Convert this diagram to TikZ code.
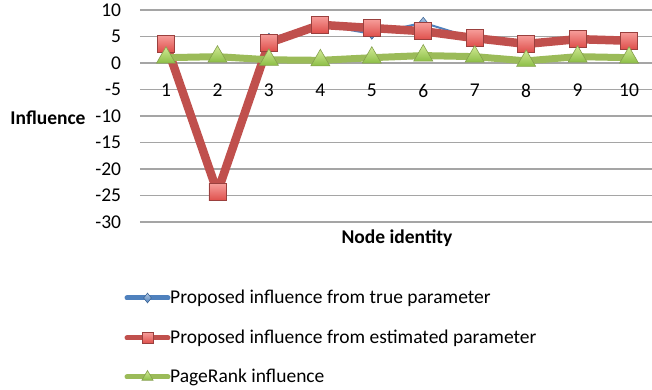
\documentclass[tikz,border=0pt]{standalone}
\usepackage{fontspec}
\setmainfont{Carlito}
\usetikzlibrary{shapes.geometric,calc}

\definecolor{serblue}{RGB}{79,129,189}
\definecolor{serred}{RGB}{192,80,77}
\definecolor{sergreen}{RGB}{155,187,89}
\definecolor{redtop}{RGB}{246,156,153}
\definecolor{redbot}{RGB}{222,78,74}
\definecolor{greentop}{RGB}{210,234,150}
\definecolor{greenbot}{RGB}{140,190,70}
\definecolor{gridgray}{RGB}{165,165,165}

\tikzset{
  lab/.style={font=\fontsize{19.5}{23}\selectfont, inner sep=0pt},
  titlelab/.style={font=\fontsize{19.5}{23}\selectfont\bfseries, inner sep=0pt},
  gridline/.style={draw=gridgray, line width=1.4pt},
  trueline/.style={draw=serblue, line width=2pt, line join=round},
  estline/.style={draw=serred, line width=8.5pt, line join=round},
  prline/.style={draw=sergreen, line width=7pt, line join=round},
  bluemark/.style={diamond, draw=serblue!80!black, top color=serblue!45!white,
    bottom color=serblue, minimum width=9pt, minimum height=11pt, inner sep=0pt,
    line width=0.6pt},
  redmark/.style={rectangle, draw=serred!80!black, top color=redtop,
    bottom color=redbot, minimum size=17pt, inner sep=0pt, line width=0.8pt},
  greenmark/.style={regular polygon, regular polygon sides=3, draw=sergreen!85!black,
    top color=greentop, bottom color=greenbot, minimum size=22pt, inner sep=0pt,
    line width=0.6pt},
  keyline/.style={line width=5pt, line cap=round}
}

\begin{document}
\begin{tikzpicture}[x=1pt,y=1pt]
  \useasboundingbox (0,0) rectangle (652,390);

  \begin{scope}[shift={(114.55pt,327pt)}, x=51.45pt, y=5.3pt]
    % grid and value axis
    \foreach \v [count=\k] in {10,5,...,-30}{
      \draw[gridline] (0.49,\v) -- (10.44,\v);
      \node[lab,anchor=east] (ytick\k) at (0.13,\v) {\v};
    }
    \foreach \i in {1,...,10}
      \node[lab] (xtick\i) at (\i,-5.2) {\i};

    % series values
    \foreach \i/\v in {1/3.6,2/-24,3/4.6,4/7.2,5/5.5,6/7.6,7/4.6,8/3.3,9/4.4,10/4.2}
      \coordinate (tru\i) at (\i,\v);
    \foreach \i/\v in {1/3.6,2/-24.4,3/3.8,4/7.2,5/6.6,6/6.0,7/4.7,8/3.6,9/4.5,10/4.2}
      \coordinate (est\i) at (\i,\v);
    \foreach \i/\v in {1/1.0,2/1.2,3/0.6,4/0.5,5/1.0,6/1.4,7/1.2,8/0.4,9/1.2,10/1.0}
      \coordinate (pr\i) at (\i,\v);

    % true parameter
    \draw[trueline] (tru1) \foreach \i in {2,...,10}{ -- (tru\i)};
    \foreach \i in {1,...,10}
      \node[bluemark] (trum\i) at (tru\i) {};

    % estimated parameter
    \draw[estline] (est1) \foreach \i in {2,...,10}{ -- (est\i)};
    \foreach \i in {1,...,10}
      \node[redmark] (estm\i) at (est\i) {};

    % pagerank
    \draw[prline] (pr1) \foreach \i in {2,...,10}{ -- (pr\i)};
    \foreach \i in {1,...,10}
      \node[greenmark] (prm\i) at (pr\i) {};
  \end{scope}

  \node[titlelab] (ytitle) at (48,272) {Influence};
  \node[titlelab] (xtitle) at (397,152) {Node identity};

  % legend
  \coordinate (ka1) at (127,92);  \coordinate (kb1) at (168,92);
  \coordinate (ka2) at (127,52);  \coordinate (kb2) at (168,52);
  \coordinate (ka3) at (127,13);  \coordinate (kb3) at (168,13);
  \draw[keyline,serblue] (ka1) -- (kb1);
  \node[bluemark,minimum width=8pt,minimum height=10pt] (key1) at ($(ka1)!0.5!(kb1)$) {};
  \draw[keyline,serred] (ka2) -- (kb2);
  \node[redmark,minimum size=11pt] (key2) at ($(ka2)!0.5!(kb2)$) {};
  \draw[keyline,sergreen] (ka3) -- (kb3);
  \node[greenmark,minimum size=13pt] (key3) at ($(ka3)!0.5!(kb3)$) {};
  \node[lab,anchor=west] (ltext1) at (170,92) {Proposed influence from true parameter};
  \node[lab,anchor=west] (ltext2) at (170,52) {Proposed influence from estimated parameter};
  \node[lab,anchor=west] (ltext3) at (170,13) {PageRank influence};
\end{tikzpicture}
\end{document}
